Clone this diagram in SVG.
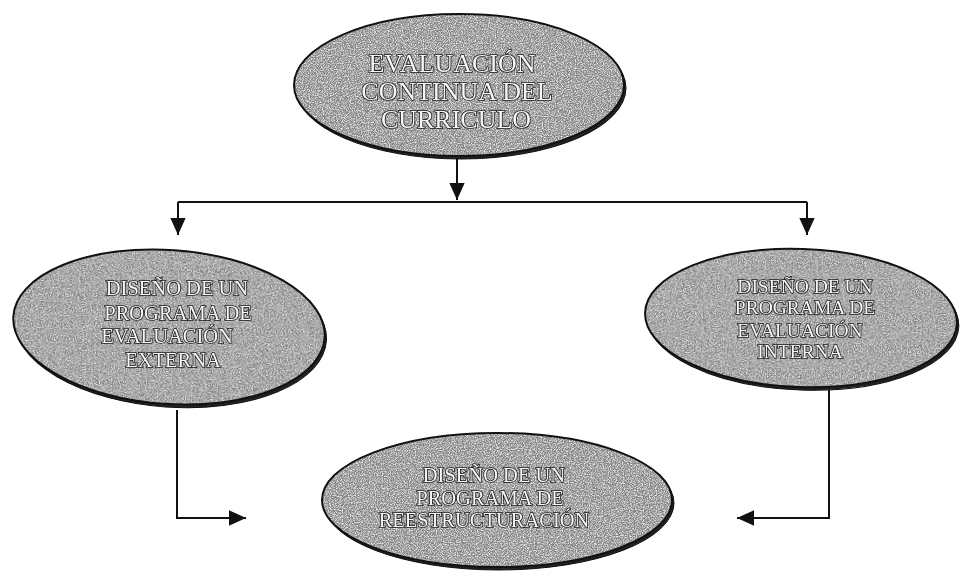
<svg xmlns="http://www.w3.org/2000/svg" width="961" height="572" viewBox="0 0 961 572">
<style>
.shadow{fill:#222;stroke:#111;stroke-width:1}
.body{fill:#868686;filter:url(#grain)}
.rim{fill:none;stroke:#111;stroke-width:2}
.t{font-family:"Liberation Serif","Times New Roman",serif;fill:#f6f6f6;stroke:#1a1a1a;stroke-width:1.6;paint-order:stroke fill;text-anchor:middle}
.txt{filter:url(#flat)}
.big{font-size:26px}
.mid{font-size:20.5px}
.sm{font-size:19.5px}
.line{fill:none;stroke:#111;stroke-width:2}
</style>
<defs>
<filter id="grain" x="0" y="0" width="100%" height="100%">
<feTurbulence type="fractalNoise" baseFrequency="0.85" numOctaves="2" seed="5" result="n"/>
<feColorMatrix in="n" type="matrix" values="0 0 0 0 0.96  0 0 0 0 0.96  0 0 0 0 0.96  0 0 0 2.2 -0.9" result="spots"/>
<feComposite in="spots" in2="SourceGraphic" operator="atop"/>
</filter>
<filter id="flat" x="-5%" y="-5%" width="110%" height="110%">
<feOffset dx="0" dy="0"/>
</filter>
<marker id="ahv" viewBox="0 0 10 10" refX="10" refY="5" markerWidth="17" markerHeight="17" markerUnits="userSpaceOnUse" orient="auto">
<path d="M0,0.5 L10,5 L0,9.5 Z" fill="#111"/>
</marker>
</defs>
<g id="connectors">
<path class="line" d="M457,157 V200" marker-end="url(#ahv)"/>
<path class="line" d="M178,202 H807"/>
<path class="line" d="M178,202 V235" marker-end="url(#ahv)"/>
<path class="line" d="M807,202 V235" marker-end="url(#ahv)"/>
<path class="line" d="M177,410 V518 H246" marker-end="url(#ahv)"/>
<path class="line" d="M829,390 V518 H737" marker-end="url(#ahv)"/>
</g>
<g id="n_top">
<ellipse class="shadow" cx="461" cy="88" rx="165" ry="71"/>
<ellipse class="body" cx="459" cy="85" rx="165" ry="71"/>
<ellipse class="rim" cx="459" cy="85" rx="165" ry="71"/>
<g class="txt">
<text class="t big" x="452" y="72">EVALUACIÓN</text>
<text class="t big" x="457" y="100">CONTINUA DEL</text>
<text class="t big" x="456" y="128">CURRICULO</text>
</g>
</g>
<g id="n_left">
<g transform="rotate(4 169 327)">
<ellipse class="shadow" cx="171" cy="330" rx="156" ry="77"/>
<ellipse class="body" cx="169" cy="327" rx="156" ry="77"/>
<ellipse class="rim" cx="169" cy="327" rx="156" ry="77"/>
</g>
<g class="txt">
<text class="t mid" x="177" y="295">DISEÑO DE UN</text>
<text class="t mid" x="178" y="320">PROGRAMA DE</text>
<text class="t mid" x="167" y="343">EVALUACIÓN</text>
<text class="t mid" x="173" y="367">EXTERNA</text>
</g>
</g>
<g id="n_right">
<g transform="rotate(2 801 318)">
<ellipse class="shadow" cx="803" cy="321" rx="156" ry="69"/>
<ellipse class="body" cx="801" cy="318" rx="156" ry="69"/>
<ellipse class="rim" cx="801" cy="318" rx="156" ry="69"/>
</g>
<g class="txt">
<text class="t sm" x="805" y="293">DISEÑO DE UN</text>
<text class="t sm" x="805" y="314">PROGRAMA DE</text>
<text class="t sm" x="800" y="337">EVALUACIÓN</text>
<text class="t sm" x="800" y="358">INTERNA</text>
</g>
</g>
<g id="n_bottom">
<ellipse class="shadow" cx="499" cy="503" rx="175" ry="67"/>
<ellipse class="body" cx="497" cy="500" rx="175" ry="67"/>
<ellipse class="rim" cx="497" cy="500" rx="175" ry="67"/>
<g class="txt">
<text class="t mid" x="494" y="482">DISEÑO DE UN</text>
<text class="t mid" x="490" y="505">PROGRAMA DE</text>
<text class="t mid" x="484" y="527">REESTRUCTURACIÓN</text>
</g>
</g>
</svg>
